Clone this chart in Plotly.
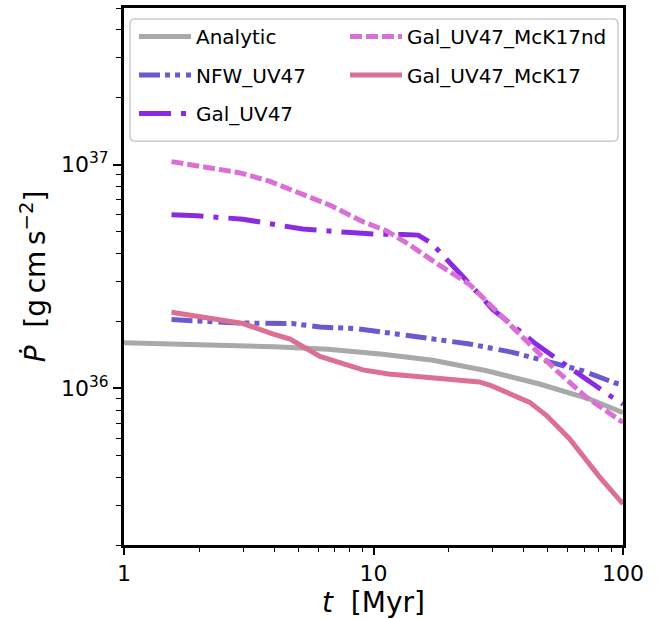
import plotly.graph_objects as go

# ---- data ----
t_analytic = [1.0, 1.51, 2.45, 4.0, 6.58, 10.9, 17.3, 28.4, 46.3, 73.5, 100]
P_analytic = [1.60e36, 1.585e36, 1.563e36, 1.535e36, 1.496e36, 1.422e36, 1.337e36,
              1.20e36, 1.047e36, 0.897e36, 0.78e36]

t_nfw = [1.55, 2.92, 4.72, 6.1, 8.6, 11.4, 15.3, 24.3, 36.1, 49.4, 68.9, 92.5, 100]
P_nfw = [2.03e36, 1.96e36, 1.95e36, 1.88e36, 1.85e36, 1.77e36, 1.69e36, 1.58e36,
         1.45e36, 1.33e36, 1.20e36, 1.06e36, 1.04e36]

t_gal = [1.55, 1.97, 3.0, 5.2, 7.8, 10.1, 13.1, 15.1, 17.1, 20.8, 22.8, 30.1, 34.2,
         45.1, 54.7, 68.9, 86.7, 100]
P_gal = [5.97e36, 5.90e36, 5.70e36, 5.15e36, 4.98e36, 4.89e36, 4.87e36, 4.84e36,
         4.45e36, 3.56e36, 3.16e36, 2.25e36, 2.00e36, 1.57e36, 1.35e36, 1.12e36,
         9.44e35, 8.5e35]

t_mck17nd = [1.55, 2.28, 2.92, 3.85, 4.94, 6.70, 9.08, 11.3, 14.0, 17.9, 24.3, 33.0,
             42.3, 54.2, 71.4, 100]
P_mck17nd = [1.03e37, 9.55e36, 9.18e36, 8.41e36, 7.54e36, 6.58e36, 5.55e36, 5.05e36,
             4.37e36, 3.62e36, 2.91e36, 2.07e36, 1.57e36, 1.20e36, 9.12e35, 7.05e35]

t_mck17 = [1.55, 1.97, 3.0, 3.97, 4.63, 6.1, 7.55, 9.07, 11.5, 15.8, 26.6, 29.6, 42.3,
           49.4, 61.0, 80.5, 100]
P_mck17 = [2.19e36, 2.10e36, 1.95e36, 1.75e36, 1.66e36, 1.39e36, 1.29e36, 1.21e36,
           1.16e36, 1.12e36, 1.07e36, 1.03e36, 8.67e35, 7.57e35, 5.97e35, 4.03e35,
           3.05e35]

x_tickvals = [1, 10, 100]
x_ticktext = ["1", "10", "100"]
y_tickvals = [1e36, 1e37]
y_ticktext = ["10<sup>36</sup>", "10<sup>37</sup>"]

FONT = "DejaVu Sans"

series = [
    ("Analytic", t_analytic, P_analytic, "#a9a9a9", "solid", "legend"),
    ("NFW_UV47", t_nfw, P_nfw, "#6a5acd", "21px,5px,5px,5px,5px,6px", "legend"),
    ("Gal_UV47", t_gal, P_gal, "#8a2be2", "32px,10px,5px,10px", "legend"),
    ("Gal_UV47_McK17nd", t_mck17nd, P_mck17nd, "#da70d6", "12px,4px", "legend2"),
    ("Gal_UV47_McK17", t_mck17, P_mck17, "#db7093", "solid", "legend2"),
]

fig = go.Figure()
for name, t, p, col, dash, leg in series:
    fig.add_trace(go.Scatter(
        x=t, y=p, mode="lines", name=name,
        line=dict(color=col, width=5, dash=dash),
        legend=leg, legendgroup=name,
    ))

W, H = 668, 619
L, R, T, B = 124, 45, 5, 74
pw, ph = W - L - R, H - T - B

def px_x(px):
    return (px - L) / pw

def px_y(py):
    return 1 - (py - T) / ph

legend_common = dict(
    xanchor="left", yanchor="top", bgcolor="rgba(0,0,0,0)", borderwidth=0,
    font=dict(family=FONT, size=20, color="black"),
    tracegroupgap=9.5, itemwidth=52,
)

# rounded legend frame
x0, x1, y0, y1 = px_x(130), px_x(618), px_y(139), px_y(16)
rx, ry = 5 / pw, 5 / ph
path = (f"M{x0+rx},{y0} L{x1-rx},{y0} Q{x1},{y0} {x1},{y0+ry} L{x1},{y1-ry} "
        f"Q{x1},{y1} {x1-rx},{y1} L{x0+rx},{y1} Q{x0},{y1} {x0},{y1-ry} "
        f"L{x0},{y0+ry} Q{x0},{y0} {x0+rx},{y0} Z")

fig.update_layout(
    width=W, height=H,
    margin=dict(l=L, r=R, t=T, b=B),
    paper_bgcolor="white", plot_bgcolor="white",
    font=dict(family=FONT, color="black"),
    legend=dict(x=px_x(134), y=px_y(14), **legend_common),
    legend2=dict(x=px_x(345), y=px_y(14), **legend_common),
    shapes=[dict(type="path", path=path, xref="paper", yref="paper",
                 line=dict(color="#cccccc", width=1.5),
                 fillcolor="rgba(255,255,255,0.8)", layer="below")],
    xaxis=dict(
        type="log", range=[0, 2],
        tickvals=x_tickvals, ticktext=x_ticktext,
        tickfont=dict(size=22), ticks="outside", ticklen=7, tickwidth=1.5,
        tickcolor="black",
        minor=dict(ticks="outside", ticklen=4, tickwidth=1, tickcolor="black",
                   tickvals=[2, 3, 4, 5, 6, 7, 8, 9, 20, 30, 40, 50, 60, 70, 80, 90]),
        showgrid=False, zeroline=False,
        showline=True, linecolor="black", linewidth=3, mirror=True,
        title=dict(text="<i>t</i>\u00a0\u00a0[Myr]", font=dict(size=28), standoff=2),
    ),
    yaxis=dict(
        type="log", range=[35.30103, 37.69897],
        tickvals=y_tickvals, ticktext=y_ticktext,
        tickfont=dict(size=22), ticks="outside", ticklen=8, tickwidth=1.5,
        tickcolor="black",
        minor=dict(ticks="outside", ticklen=5, tickwidth=1, tickcolor="black",
                   tickvals=[2e35, 3e35, 4e35, 5e35, 6e35, 7e35, 8e35, 9e35,
                             2e36, 3e36, 4e36, 5e36, 6e36, 7e36, 8e36, 9e36,
                             2e37, 3e37, 4e37, 5e37]),
        showgrid=False, zeroline=False,
        showline=True, linecolor="black", linewidth=3, mirror=True,
        title=dict(text="<i>\u1e56</i>\u00a0\u00a0[g\u2009cm\u2009s<sup>\u22122</sup>]",
                   font=dict(size=28), standoff=8),
    ),
)

fig.write_html("out.html", config={"displayModeBar": False},
               post_script="document.body.style.margin='0';")
